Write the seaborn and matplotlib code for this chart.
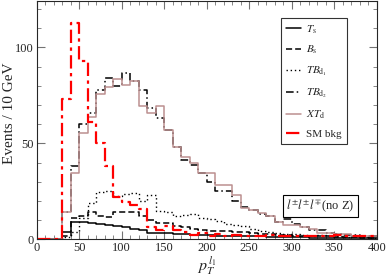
import numpy as np
import pandas as pd
import seaborn as sns
import matplotlib.pyplot as plt
from matplotlib.lines import Line2D

# 10 GeV bins from 0 to 400
bin_edges = list(range(0, 410, 10))

t_s = [0, 0, 0, 4, 9, 9, 8.5, 8, 7.5, 7,
       6.5, 5.5, 5, 3.5, 3.5, 3.5, 3, 3, 2.5, 2.5,
       2.5, 2, 2, 2, 1.5, 1.5, 1.5, 1, 1, 1,
       1, 1, 0.5, 0.5, 0.5, 0.5, 0.5, 0.5, 0.5, 0.5]
b_s = [0, 0, 0, 2, 11, 12, 14, 12, 11.5, 14,
       14.5, 14.5, 12, 10, 8.5, 8.5, 7, 6.5, 5.5, 5,
       4.5, 4.5, 4.5, 4, 4, 3.5, 3, 3, 2.5, 2.5,
       2, 2, 1.5, 1.5, 1.5, 1, 1, 1, 0.5, 0.5]
tb_d1 = [0, 0, 0, 1, 4, 11, 19, 24.5, 25, 22.5,
         23.5, 24, 20, 23, 15, 14, 12, 12.5, 13, 11,
         10.5, 9.5, 8, 7.5, 7, 5.5, 4.5, 4, 3.5, 3,
         3, 2.5, 2, 2.5, 1.5, 1.5, 1, 1.5, 1, 0.5]
tb_d2 = [0, 0, 0, 14, 38, 60, 66, 78, 84, 80,
         86.5, 82.5, 78, 68.5, 63, 57, 48, 41.5, 39, 34.5,
         30, 25, 25, 20, 17, 15.3, 13, 12, 9.2, 10.5,
         8, 6.5, 5, 5, 3.5, 3, 2.5, 2.5, 2, 1.5]
xt_d = [0, 0, 0, 14, 34.5, 55.5, 63.5, 75.5, 79.5, 83.5,
        80.5, 82.5, 69.5, 66, 69.5, 57, 48, 43, 40, 34.5,
        34.5, 28.5, 28.5, 23, 16.5, 15.5, 13.5, 12, 9.2, 7.5,
        7.5, 6.5, 5.2, 3.5, 3.5, 3, 3, 1.5, 1.5, 1.5]
sm_bkg = [0, 0, 0, 73, 113, 93, 61, 50, 38, 22,
          19.5, 18, 16, 6.5, 5, 7, 5, 4, 2.5, 3.5,
          2, 3, 2, 2.5, 2, 2, 1.5, 2.5, 1.5, 2,
          1.5, 2, 1.5, 2, 1.5, 2.5, 1.5, 2, 1.5, 1.5]

labels = [r"$T_{\mathrm{s}}$", r"$B_{\mathrm{s}}$", r"$TB_{\mathrm{d}_1}$",
          r"$TB_{\mathrm{d}_2}$", r"$XT_{\mathrm{d}}$", "SM bkg"]

sns.set_style("ticks")
plt.rcParams['font.family'] = ['Liberation Serif', 'DejaVu Serif']
plt.rcParams['mathtext.fontset'] = 'stix'

styles = [
    (t_s, 'black', '-', 1.1),
    (b_s, 'black', (0, (4, 2)), 1.1),
    (tb_d1, 'black', (0, (1, 2)), 1.0),
    (tb_d2, 'black', (0, (5, 2, 1, 2)), 1.1),
    (xt_d, '#bc8f8f', '-', 1.1),
    (sm_bkg, 'red', (0, (6, 2, 1.5, 2)), 1.6),
]

fig = plt.figure(figsize=(3.87, 2.78), dpi=100)
ax = fig.add_axes([0.0948, 0.139, 0.8786, 0.856])

centers = [e + 5 for e in bin_edges[:-1]]
handles = []
for (vals, col, ls, lw), lab in zip(styles, labels):
    df = pd.DataFrame({'pt': centers, 'w': vals})
    sns.histplot(data=df, x='pt', weights='w', bins=bin_edges, element='step',
                 fill=False, color=col, linestyle=ls, linewidth=lw, ax=ax)
    handles.append(Line2D([], [], color=col, linestyle=ls, linewidth=lw, label=lab))

ax.set_xlim(0, 400)
ax.set_ylim(0, 124)
ax.set_xticks(np.arange(0, 401, 50))
ax.set_xticks(np.arange(0, 401, 10), minor=True)
ax.set_yticks([0, 50, 100])
ax.set_yticks(np.arange(0, 124, 10), minor=True)
ax.tick_params(which='both', direction='in', top=True, right=True,
               color='0.45', labelsize=9, pad=2)
ax.tick_params(which='major', length=6, width=0.8)
ax.tick_params(which='minor', length=3, width=0.6)
for s in ax.spines.values():
    s.set_linewidth(0.8)

ax.set_xlabel(r"$p_T^{\,l_1}$", fontsize=11.5, labelpad=0)
ax.set_ylabel("Events / 10 GeV", fontsize=11)
ax.yaxis.set_label_coords(-0.062, 0.53)

leg = ax.legend(handles=handles, loc='upper right', bbox_to_anchor=(0.913, 0.93),
                fontsize=8, frameon=True, fancybox=False, edgecolor='black',
                handlelength=1.3, handletextpad=0.5, labelspacing=0.75,
                borderpad=0.45, borderaxespad=0)
leg.get_frame().set_linewidth(0.8)

ax.text(0.935, 0.14, r"$l^{\pm}l^{\pm}l^{\mp}$(no Z)", transform=ax.transAxes,
        ha='right', va='center', fontsize=9,
        bbox=dict(boxstyle='square,pad=0.25', facecolor='white', edgecolor='black', linewidth=0.8))

fig.savefig("out.png", dpi=100)
